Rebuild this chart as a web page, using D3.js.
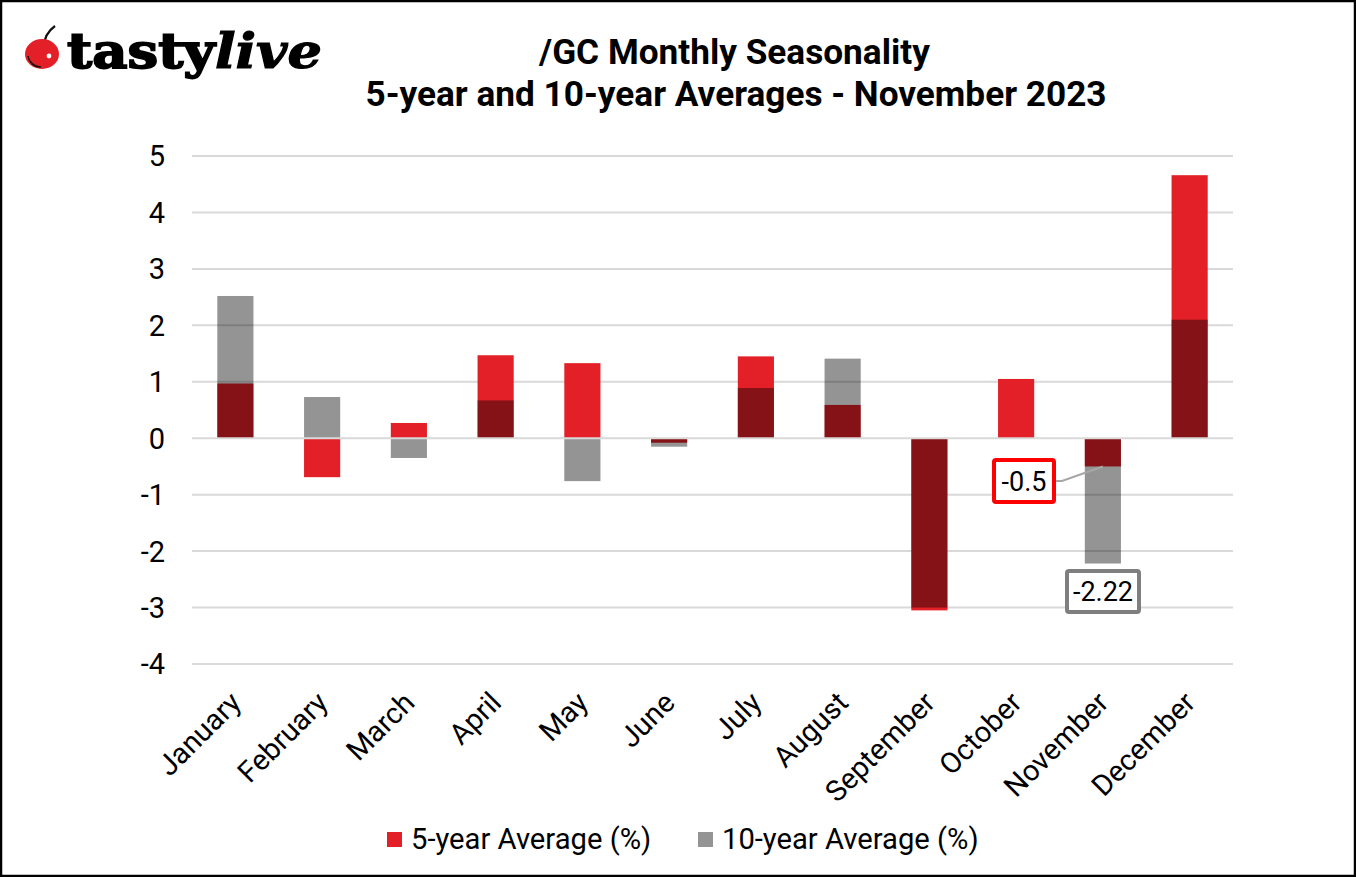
<!DOCTYPE html>
<html><head><meta charset="utf-8">
<script src="https://cdn.jsdelivr.net/npm/d3@7/dist/d3.min.js"></script>
<style>html,body{margin:0;padding:0;background:#fff}svg{display:block}text{font-family:Roboto,sans-serif;fill:#000}</style>
</head><body><svg id="c" width="1356" height="877"></svg>
<script>
const months=["January","February","March","April","May","June","July","August","September","October","November","December"];
const fiveYear=[0.97,-0.69,0.27,1.47,1.33,-0.08,1.45,0.59,-3.05,1.05,-0.5,4.66];
const tenYear=[2.52,0.73,-0.35,0.67,-0.76,-0.15,0.89,1.41,-3.0,0.0,-2.22,2.1];
const yTicks=[5,4,3,2,1,0,-1,-2,-3,-4];
const titleLines=["/GC Monthly Seasonality","5-year and 10-year Averages - November 2023"];
const seriesNames=["5-year Average (%)","10-year Average (%)"];
const RED="#e31f27", OVER="rgba(0,0,0,0.42)", GRID="#d9d9d9";

const svg=d3.select("#c");
svg.append("rect").attr("x",1).attr("y",1).attr("width",1354).attr("height",875).attr("fill","#fff").attr("stroke","#000").attr("stroke-width",2.5);

const x=d3.scaleBand().domain(months).range([192,1233]).paddingInner(1.4/2.4).paddingOuter(0.7/2.4);
const y=d3.scaleLinear().domain([-4,5]).range([664,156]);

svg.append("g").selectAll("line").data(yTicks.filter(d=>d!==0)).join("line")
 .attr("x1",192).attr("x2",1233).attr("y1",d=>y(d)).attr("y2",d=>y(d)).attr("stroke",GRID).attr("stroke-width",2);

const bar=(sel,vals,fill)=>sel.selectAll("rect").data(vals).join("rect")
 .attr("x",(d,i)=>x(months[i])).attr("width",x.bandwidth())
 .attr("y",d=>Math.min(y(d),y(0))).attr("height",d=>Math.abs(y(d)-y(0))).attr("fill",fill);
bar(svg.append("g"),fiveYear,RED);
bar(svg.append("g"),tenYear,OVER);

svg.append("line").attr("x1",192).attr("x2",1233).attr("y1",y(0)).attr("y2",y(0)).attr("stroke",GRID).attr("stroke-width",2);

svg.append("g").selectAll("text").data(yTicks).join("text")
 .attr("x",165).attr("y",d=>y(d)).attr("dy","0.36em").attr("text-anchor","end").attr("font-size",29).text(d=>d);
svg.append("g").selectAll("text").data(months).join("text")
 .attr("text-anchor","end").attr("font-size",29)
 .attr("transform",d=>`translate(${x(d)+x.bandwidth()/2},${697}) rotate(-45)`).attr("dy","0.36em").text(d=>d);

svg.append("g").selectAll("text").data(titleLines).join("text")
 .attr("x",(d,i)=>i?736:734.5).attr("y",(d,i)=>64+i*42).attr("text-anchor","middle")
 .attr("font-size",35.2).attr("font-weight",700).text(d=>d);

const lg=svg.append("g");
lg.append("rect").attr("x",387).attr("y",832).attr("width",15).attr("height",15).attr("fill",RED);
lg.append("text").attr("x",411).attr("y",849).attr("font-size",29.2).text(seriesNames[0]);
lg.append("rect").attr("x",698).attr("y",832).attr("width",15).attr("height",15).attr("fill","#949494");
lg.append("text").attr("x",722).attr("y",849).attr("font-size",29.2).text(seriesNames[1]);

const nov=x("November")+x.bandwidth()/2;
svg.append("path").attr("d",`M1056,481 L1062,481 L${nov},${y(fiveYear[10])}`).attr("fill","none").attr("stroke","#a6a6a6").attr("stroke-width",2);
const call=(bx,by,w,h,col,val)=>{
 svg.append("rect").attr("x",bx).attr("y",by).attr("width",w).attr("height",h).attr("rx",2).attr("fill","#fff").attr("stroke",col).attr("stroke-width",4);
 svg.append("text").attr("x",bx+w/2).attr("y",by+h/2).attr("dy","0.36em").attr("text-anchor","middle").attr("font-size",27).text(val);
};
call(994,460,60,42,"#ff0000",fiveYear[10]);
call(1067,571,72,41,"#7f7f7f",tenYear[10]);

const logo=svg.append("g");
logo.append("path").attr("d","M44,47 C44,38 48,31 55,26").attr("fill","none").attr("stroke","#111").attr("stroke-width",2.2);
logo.append("ellipse").attr("cx",42).attr("cy",54).attr("rx",17).attr("ry",15).attr("fill","#e31f27");
logo.append("path").attr("d","M28,56 C30,63 35,66 41,67 C35,68 29,64 28,56Z").attr("fill","#111").attr("stroke","#111");
logo.append("circle").attr("cx",49).attr("cy",56).attr("r",2.4).attr("fill","#fff");
logo.append("text").attr("x",67).attr("y",68).attr("font-size",49).attr("font-weight",700)
 .style("font-family","'DejaVu Serif',serif").attr("stroke","#000").attr("stroke-width",1.8).attr("textLength",148).attr("lengthAdjust","spacingAndGlyphs").text("tasty");
logo.append("text").attr("x",215).attr("y",68).attr("font-size",49).attr("font-weight",700).attr("font-style","italic")
 .style("font-family","'DejaVu Serif',serif").attr("stroke","#000").attr("stroke-width",1.2).attr("textLength",107).attr("lengthAdjust","spacingAndGlyphs").text("live");
</script></body></html>
